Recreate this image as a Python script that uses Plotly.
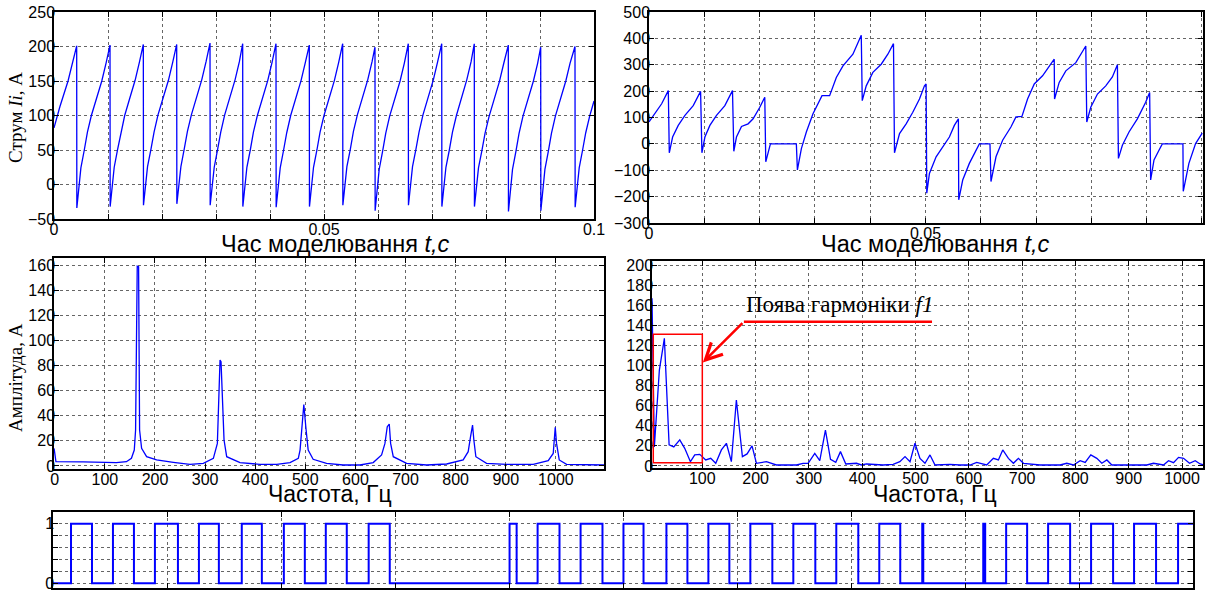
import plotly.graph_objects as go

W, H = 1205, 592

# ---------------- data ----------------
# Top-left: current Ii (time in ms)
t_i1_ms = [0.00, 1.10, 2.60, 3.45, 4.20,
           4.23, 4.57, 4.98, 5.61, 6.19, 6.92, 7.86, 8.85, 9.64, 10.37,
           10.40, 10.74, 11.15, 11.78, 12.36, 13.09, 14.03, 15.02, 15.81, 16.54,
           16.57, 16.91, 17.32, 17.95, 18.53, 19.26, 20.20, 21.19, 21.98, 22.72,
           22.75, 23.09, 23.50, 24.13, 24.71, 25.44, 26.38, 27.37, 28.16, 28.89,
           28.92, 29.26, 29.67, 30.30, 30.88, 31.61, 32.55, 33.54, 34.33, 34.94,
           34.97, 35.31, 35.72, 36.35, 36.93, 37.66, 38.60, 39.59, 40.38, 41.11,
           41.14, 41.48, 41.89, 42.52, 43.10, 43.83, 44.77, 45.76, 46.55, 47.28,
           47.31, 47.65, 48.06, 48.69, 49.27, 50.00, 50.94, 51.93, 52.72, 53.46,
           53.49, 53.83, 54.24, 54.87, 55.45, 56.18, 57.12, 58.11, 58.90, 59.44,
           59.47, 59.81, 60.22, 60.85, 61.43, 62.16, 63.10, 64.09, 64.88, 65.61,
           65.64, 65.98, 66.39, 67.02, 67.60, 68.33, 69.27, 70.26, 71.05, 71.80,
           71.83, 72.17, 72.58, 73.21, 73.79, 74.52, 75.46, 76.45, 77.24, 77.83,
           77.86, 78.20, 78.61, 79.24, 79.82, 80.55, 81.49, 82.48, 83.27, 84.13,
           84.16, 84.50, 84.91, 85.54, 86.12, 86.85, 87.79, 88.78, 89.57, 90.13,
           90.16, 90.50, 90.91, 91.54, 92.12, 92.85, 93.79, 94.78, 95.57, 96.48,
           96.51, 96.85, 97.26, 97.89, 98.47, 99.20, 100.00]
i1 = [82, 113, 150, 175, 201,
      -34, -5, 24, 50, 76, 100, 124, 150, 176, 202,
      -32, -4, 25, 51, 75, 100, 125, 151, 177, 203,
      -30, -3, 26, 51, 76, 101, 126, 151, 177, 203,
      -28, -2, 26, 52, 77, 101, 126, 152, 178, 205,
      -30, -3, 25, 51, 76, 101, 126, 152, 178, 204,
      -32, -4, 25, 50, 76, 100, 125, 151, 177, 204,
      -33, -5, 24, 50, 75, 100, 125, 151, 177, 202,
      -32, -4, 25, 50, 76, 100, 125, 151, 177, 204,
      -30, -3, 26, 51, 77, 101, 126, 152, 178, 199,
      -38, -8, 22, 48, 74, 99, 124, 150, 176, 204,
      -30, -3, 26, 51, 76, 101, 126, 152, 178, 204,
      -32, -4, 25, 50, 76, 100, 126, 152, 178, 204,
      -32, -4, 24, 49, 74, 98, 123, 149, 175, 202,
      -39, -9, 22, 48, 74, 99, 124, 150, 176, 199,
      -38, -8, 22, 48, 74, 99, 124, 150, 176, 200,
      -33, -5, 24, 50, 75, 99, 121]

# Top-right: current with missing pulses (time in ms)
t_i2_ms = [0.00, 1.08, 2.29, 3.49, 3.67, 4.27, 5.29, 6.50, 8.00, 9.33,
           9.57, 10.11, 11.01, 12.21, 13.72, 15.10, 15.34, 15.82, 16.73, 17.93,
           18.83, 20.04, 20.94, 21.12, 21.96, 26.65, 26.84, 27.56, 28.46, 29.66,
           31.29, 32.67, 33.88, 35.08, 36.88, 38.39, 38.57, 39.29, 40.49, 42.00,
           43.20, 44.22, 44.40, 45.31, 46.51, 47.71, 48.92, 49.82, 50.12, 50.24,
           50.72, 51.93, 53.13, 54.33, 55.23, 55.96, 56.02, 56.74, 57.94, 59.15,
           59.75, 61.67, 61.85, 62.76, 63.96, 65.46, 66.37, 67.45, 68.47, 69.68,
           71.18, 73.29, 73.35, 74.19, 75.39, 77.20, 79.00, 79.18, 79.90, 81.11,
           82.61, 83.81, 84.72, 84.90, 85.62, 86.82, 88.33, 89.83, 90.55, 90.73,
           91.34, 92.24, 92.84, 96.57, 96.63, 97.65, 98.86, 100.06]
i2 = [83, 114, 152, 202, -34, 26, 70, 108, 145, 199,
      -34, 26, 70, 108, 145, 202, -28, 26, 66, 76,
      95, 139, 177, -68, 0, 0, -99, -18, 45, 114,
      183, 183, 252, 296, 340, 412, 164, 220, 271, 302,
      340, 380, -34, 39, 76, 120, 170, 220, 227, -187,
      -112, -49, -11, 26, 70, 95, -212, -137, -74, -24,
      0, 0, -143, -49, 14, 64, 102, 104, 170, 227,
      258, 321, 170, 233, 277, 308, 371, 83, 139, 189,
      220, 254, 300, -55, -5, 45, 95, 158, 195, -137,
      -61, -24, 0, 0, -180, -74, 1, 41]

# Middle-left: spectrum of the top-left current
f1 = [-1.3, 2.4, 56.5, 98.5, 123, 143, 153, 158.7, 161.3, 164.6, 167.3, 169.3,
      173.3, 183.3, 203.3, 236.6, 269.9, 296.5, 316.5, 324.5, 329.8, 331.8,
      334.5, 337.8, 343.1, 369.7, 409.6, 442.9, 469.5, 486.0, 489.5, 492.5,
      497.0, 501.0, 505.7, 515.6, 542.3, 575.6, 608.9, 635.5, 652.2, 658.9,
      663.5, 667.5, 670.2, 675.5, 702.1, 742.0, 782.0, 815.0, 825.0, 829.7,
      833.7, 836.3, 840.3, 861.6, 901.5, 954.8, 984.7, 994.7, 998.7, 1001.3,
      1006.7, 1021.3, 1061.2, 1096.5]
a1 = [14, 3.4, 3.2, 2.9, 2.7, 3.4, 6.1, 12.7, 28.6, 159, 158.6, 28.6,
      14, 7.4, 4.8, 2.9, 1.3, 2.1, 6.1, 18, 84.3, 83,
      50, 20.7, 7.4, 2.7, 1.3, 1.3, 2.7, 6.1, 12.7, 28.6,
      49, 31, 12.7, 5.3, 2.1, 0.8, 0.8, 2.7, 8.8, 18,
      31.3, 33.4, 18, 7.4, 2.1, 0.8, 1.6, 4.8, 11.4, 23.3,
      32.6, 20.7, 7.4, 2.1, 1.3, 1.3, 4.2, 10, 30.8, 18,
      4.8, 1.3, 0.8, 0.8]

# Middle-right: spectrum of the top-right current
f2 = [5.6, 10, 19.4, 28.8, 37.7, 46.5, 57.7, 67, 77.7, 85.8, 95.2, 106.4,
      115.8, 125.2, 135.8, 145.2, 154.5, 163.9, 175.2, 184, 193.3, 201.5,
      220.3, 239, 276.6, 289, 298.5, 311, 320.4, 331, 340.5, 350.4, 359.2,
      369.2, 389.2, 398.6, 408, 439.3, 458, 470.6, 480.3, 489.7, 499, 508.4,
      517.8, 527.2, 536.6, 564.7, 583.5, 602.3, 614.8, 633.6, 646.1, 655.5,
      663.7, 674.3, 683.7, 693.1, 702.5, 733.8, 771.3, 783.8, 796.4, 808.9,
      818.3, 828.9, 840.2, 849.6, 859, 868.4, 909, 934, 946.5, 965.3, 974.7,
      984.1, 993.5, 1002.9, 1014.1, 1024.8, 1034.1, 1042.3]
a2 = [167, 19, 95.5, 127, 21, 19, 26, 17.6, 4.3, 11, 11.6, 6,
      7.6, 2.7, 16, 22.6, 4.3, 65.7, 9.3, 12, 20, 2.7,
      4.3, 1, 1, 2.7, 2.7, 12.6, 5.3, 35.8, 6.6, 3.6, 14.3,
      2, 2.7, 1, 2, 1, 1.7, 4.3, 9.3, 4.3, 22.6, 7.6,
      2.7, 11, 1, 1.7, 1, 1, 3.6, 1, 7.6, 6,
      16, 7.6, 2.7, 7.6, 2.7, 1, 1, 2.7, 1, 5.3,
      3.6, 11, 7.6, 2.7, 6, 1, 1, 1, 2.7, 1, 5.3,
      3.3, 8.6, 7.6, 2.7, 5.3, 2, 1]

# Bottom: switching signal (toggle times in ms, levels after each toggle)
t_sw_ms = [0.00, 1.58, 3.42, 5.26, 7.10, 8.94, 10.96, 12.80, 14.55, 16.56, 18.32,
           20.25, 22.09, 23.93, 25.77, 27.69, 29.54, 40.05, 40.67, 42.51, 44.43,
           46.28, 48.20, 50.04, 51.80, 53.81, 55.65, 57.49, 59.33, 61.17, 63.10,
           64.94, 66.87, 68.71, 70.64, 72.48, 74.32, 76.25, 76.34, 81.60, 81.77,
           83.61, 85.45, 87.29, 89.22, 91.06, 92.99, 94.83, 96.76, 98.69, 100.00]
s_sw = [0, 1, 0, 1, 0, 1, 0, 1, 0, 1, 0,
        1, 0, 1, 0, 1, 0, 1, 0, 1, 0,
        1, 0, 1, 0, 1, 0, 1, 0, 1, 0,
        1, 0, 1, 0, 1, 0, 1, 0, 1, 0,
        1, 0, 1, 0, 1, 0, 1, 0, 1, 1]

time_ticks = [k / 100 for k in range(11)]
time_text_l = ['0', '', '', '', '', '0.05', '', '', '', '', '0.1']
time_text_r = ['0', '', '', '', '', '0.05', '', '', '', '', '']

# ---------------- figure ----------------
BLUE = '#0000ff'
fig = go.Figure()
fig.add_trace(go.Scatter(x=[v / 1000 for v in t_i1_ms], y=i1, mode='lines',
                         line=dict(color=BLUE, width=1.3), xaxis='x', yaxis='y'))
fig.add_trace(go.Scatter(x=[v / 1000 for v in t_i2_ms], y=i2, mode='lines',
                         line=dict(color=BLUE, width=1.3), xaxis='x2', yaxis='y2'))
fig.add_trace(go.Scatter(x=f1, y=a1, mode='lines',
                         line=dict(color=BLUE, width=1.3), xaxis='x3', yaxis='y3'))
fig.add_trace(go.Scatter(x=f2, y=a2, mode='lines',
                         line=dict(color=BLUE, width=1.3), xaxis='x4', yaxis='y4'))
fig.add_trace(go.Scatter(x=[v / 1000 for v in t_sw_ms], y=s_sw, mode='lines',
                         line=dict(color=BLUE, width=2, shape='hv'), xaxis='x5', yaxis='y5'))


def px_x(a, b):
    return [a / W, b / W]


def px_y(top, bottom):
    return [1 - bottom / H, 1 - top / H]


def pos(x, y):
    return x / W, 1 - y / H


def axstyle(**kw):
    d = dict(showline=True, linecolor='black', linewidth=1.5, mirror='allticks',
             ticks='inside', ticklen=5, tickcolor='black', tickwidth=1,
             showgrid=True, gridcolor='rgba(0,0,0,0.6)', griddash='dot', gridwidth=1,
             zeroline=False, automargin=False, ticklabeloverflow='allow',
             tickfont=dict(family='Liberation Sans, Arial', size=16, color='black'))
    d.update(kw)
    return d


XS = -5   # x tick label standoff
YS = -6   # y tick label standoff
fig.update_layout(
    template='none',
    width=W, height=H, margin=dict(l=0, r=0, t=0, b=0, pad=0), autosize=False,
    paper_bgcolor='white', plot_bgcolor='white', showlegend=False,
    xaxis=axstyle(domain=px_x(54, 594), anchor='y', range=[0, 0.1], ticklabelstandoff=XS,
                  tickmode='array', tickvals=time_ticks, ticktext=time_text_l),
    yaxis=axstyle(domain=px_y(12, 219), anchor='x', range=[-50, 250], ticklabelstandoff=YS,
                  tickmode='array', tickvals=[-50, 0, 50, 100, 150, 200, 250]),
    xaxis2=axstyle(domain=px_x(649, 1203), anchor='y2', range=[0, 0.1002], ticklabelstandoff=XS,
                   tickmode='array', tickvals=time_ticks, ticktext=time_text_r),
    yaxis2=axstyle(domain=px_y(12, 223), anchor='x2', range=[-300, 500], ticklabelstandoff=YS,
                   tickmode='array', tickvals=list(range(-300, 501, 100))),
    xaxis3=axstyle(domain=px_x(54, 604), anchor='y3', range=[-1.5, 1096], ticklabelstandoff=XS,
                   tickmode='array', tickvals=list(range(0, 1001, 100))),
    yaxis3=axstyle(domain=px_y(258, 469), anchor='x3', range=[-2.4, 165.6], ticklabelstandoff=YS,
                   tickmode='array', tickvals=list(range(0, 161, 20))),
    xaxis4=axstyle(domain=px_x(652, 1203), anchor='y4', range=[5.6, 1039.4], ticklabelstandoff=XS,
                   tickmode='array', tickvals=list(range(100, 1001, 100))),
    yaxis4=axstyle(domain=px_y(261, 468), anchor='x4', range=[-2, 204], ticklabelstandoff=YS,
                   tickmode='array', tickvals=list(range(0, 201, 20))),
    xaxis5=axstyle(domain=px_x(53, 1193), anchor='y5', range=[0, 0.1],
                   tickmode='array', tickvals=time_ticks, showticklabels=False),
    yaxis5=axstyle(domain=px_y(512, 588), anchor='x5', range=[-0.08, 1.2], ticklabelstandoff=YS,
                   tickmode='array', tickvals=[0, 0.2, 0.4, 0.6, 0.8, 1],
                   ticktext=['0', '', '', '', '', '1']),
)

SERIF = 'Liberation Serif, Times New Roman, serif'
SANS = 'Liberation Sans, Arial, sans-serif'
ann = [
    dict(text='Струм <i>Ii</i>, А', p=(15, 118), textangle=-90,
         font=dict(family=SERIF, size=19, color='black')),
    dict(text='Амплітуда, А', p=(15, 378), textangle=-90,
         font=dict(family=SERIF, size=19, color='black')),
    dict(text='Час моделювання <i>t,c</i>', p=(335, 244),
         font=dict(family=SANS, size=23.5, color='black')),
    dict(text='Час моделювання <i>t,c</i>', p=(935, 244),
         font=dict(family=SANS, size=23.5, color='black')),
    dict(text='Частота, Гц', p=(330, 494),
         font=dict(family=SANS, size=23, color='black')),
    dict(text='Частота, Гц', p=(935, 494),
         font=dict(family=SANS, size=23, color='black')),
]
for a in ann:
    px, py = pos(*a.pop('p'))
    a.update(x=px, y=py, xref='paper', yref='paper', xanchor='center', yanchor='middle',
             showarrow=False)
    fig.add_annotation(**a)

# annotation on the right spectrum
fig.add_shape(type='rect', xref='x4', yref='y4', x0=8, x1=100, y0=3.3, y1=131,
              line=dict(color='#ff0000', width=1.5))
fig.add_shape(type='line', xref='x4', yref='y4', x0=178, x1=531, y0=143.6, y1=143.6,
              line=dict(color='#ff0000', width=2.5))
fig.add_annotation(xref='x4', yref='y4', axref='x4', ayref='y4',
                   x=101, y=103, ax=178, ay=143.6, text='', showarrow=True,
                   arrowhead=5, arrowsize=1.3, arrowwidth=2.5, arrowcolor='#ff0000',
                   standoff=0)
fig.add_annotation(xref='x4', yref='y4', x=178, y=146, xanchor='left', yanchor='bottom',
                   text='Поява гармоніки <i>f1</i>', showarrow=False,
                   font=dict(family=SERIF, size=23, color='black'))

fig.write_html('out.html',
               config={'displayModeBar': False},
               post_script="document.body.style.margin='0px';"
                           "document.body.style.overflow='hidden';")
